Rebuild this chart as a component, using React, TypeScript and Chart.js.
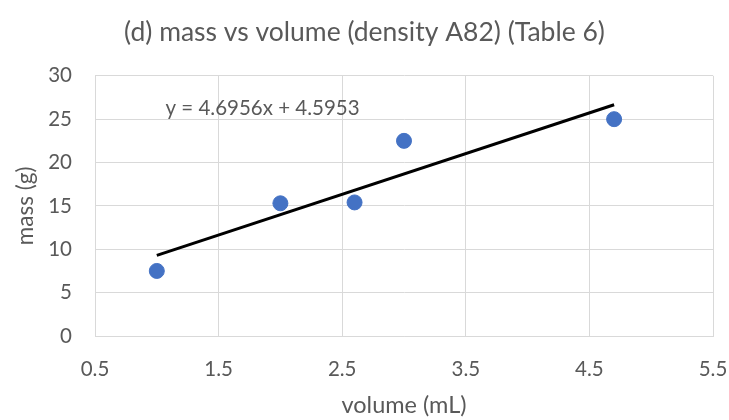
import React, { useEffect, useRef } from "react";
import { Chart, registerables } from "chart.js";

Chart.register(...registerables);

const volumes = [1, 2, 2.6, 3, 4.7];
const masses = [7.5, 15.3, 15.4, 22.5, 25.0];
const slope = 4.6956;
const intercept = 4.5953;
const trendRange = [1, 4.7];
const equationText = "y = 4.6956x + 4.5953";
const equationPos = { x: 1.07, y: 26.2 };
const xTicks = [0.5, 1.5, 2.5, 3.5, 4.5, 5.5];

const FONT = "Lato, 'Open Sans', sans-serif";
const TEXT = "#595959";
const GRID = "#d9d9d9";

const equationPlugin = {
  id: "equationLabel",
  afterDatasetsDraw(chart: any) {
    const { ctx, scales } = chart;
    const px = scales.x.getPixelForValue(equationPos.x);
    const py = scales.y.getPixelForValue(equationPos.y);
    ctx.save();
    ctx.font = `20.5px ${FONT}`;
    ctx.fillStyle = TEXT;
    ctx.textAlign = "left";
    ctx.textBaseline = "middle";
    ctx.fillText(equationText, px, py);
    ctx.restore();
  },
};

export default function App() {
  const ref = useRef<HTMLCanvasElement>(null);
  useEffect(() => {
    if (!ref.current) return;
    const chart = new Chart(ref.current, {
      type: "scatter",
      data: {
        datasets: [
          {
            type: "line",
            label: "trend",
            data: trendRange.map((x) => ({ x, y: slope * x + intercept })),
            borderColor: "#000000",
            borderWidth: 3,
            pointRadius: 0,
            fill: false,
            order: 1,
          } as any,
          {
            label: "mass",
            data: volumes.map((v, i) => ({ x: v, y: masses[i] })),
            backgroundColor: "#4472C4",
            borderColor: "#4472C4",
            pointRadius: 7.5,
            pointHoverRadius: 7.5,
            order: 0,
          },
        ],
      },
      options: {
        animation: false,
        responsive: false,
        events: [],
        layout: { padding: { left: 0, right: 0, top: 11, bottom: 0 } },
        plugins: {
          legend: { display: false },
          tooltip: { enabled: false },
          title: {
            display: true,
            text: "(d) mass vs volume (density A82) (Table 6)",
            color: TEXT,
            font: { family: FONT, size: 26.5, weight: "normal" },
            padding: { top: 6, bottom: 27 },
          },
        },
        scales: {
          x: {
            type: "linear",
            min: 0.5,
            max: 5.5,
            afterBuildTicks: (scale: any) => {
              scale.ticks = xTicks.map((v) => ({ value: v }));
            },
            ticks: {
              color: TEXT,
              font: { family: FONT, size: 20.5 },
              padding: 21,
              callback: (v: any) => Number(v).toFixed(1),
              maxRotation: 0,
            },
            grid: { color: GRID, lineWidth: 1, drawTicks: false },
            border: { color: GRID, width: 1 },
            title: {
              display: true,
              text: "volume (mL)",
              color: TEXT,
              font: { family: FONT, size: 23.5 },
              padding: { top: 8, bottom: 0 },
            },
            afterFit: (scale: any) => {
              scale.height = 84;
              scale.paddingLeft = 0;
              scale.paddingRight = 16;
            },
          },
          y: {
            type: "linear",
            min: 0,
            max: 30,
            ticks: {
              stepSize: 5,
              color: TEXT,
              font: { family: FONT, size: 20.5 },
              padding: 23,
            },
            grid: { color: GRID, lineWidth: 1, drawTicks: false },
            border: { color: GRID, width: 1 },
            title: {
              display: true,
              text: "mass (g)",
              color: TEXT,
              font: { family: FONT, size: 22.5 },
              padding: { top: 12, bottom: 0 },
            },
            afterFit: (scale: any) => {
              scale.width = 95;
            },
          },
        },
      },
      plugins: [equationPlugin],
    });
    return () => chart.destroy();
  }, []);
  return (
    <div style={{ position: "fixed", left: 0, top: 0, width: 729, height: 420, background: "#fff" }}>
      <canvas ref={ref} width={729} height={420} style={{ width: 729, height: 420, display: "block" }} />
    </div>
  );
}
